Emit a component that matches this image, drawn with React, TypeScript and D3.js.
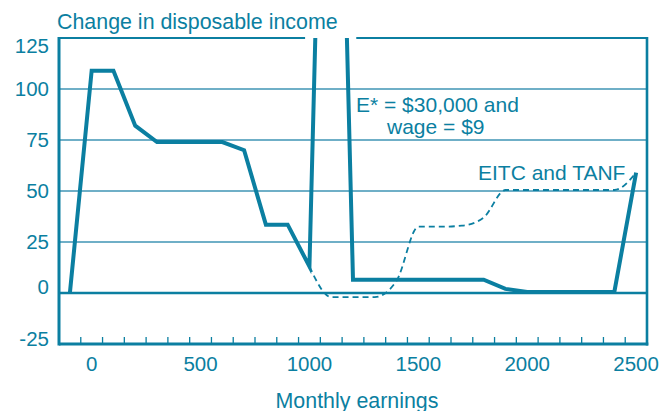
import React from "react";
import * as d3 from "d3";

// ---- data ----
const earnings = [-100, 0, 100, 200, 300, 400, 500, 600, 700, 800, 900, 1000, 1100, 1200, 1300, 1400, 1500, 1600, 1700, 1800, 1900, 2000, 2100, 2200, 2300, 2400, 2500];
const eStarWage9 = [0, 109, 109, 82, 74, 74, 74, 74, 70, 33.5, 33.5, 13, 430, 6.5, 6.5, 6.5, 6.5, 6.5, 6.5, 6.5, 2, 0.5, 0.5, 0.5, 0.5, 0.5, 59];
const eitcEarnings = [1000, 1100, 1200, 1300, 1400, 1500, 1600, 1700, 1800, 1900, 2000, 2100, 2200, 2300, 2400, 2500];
const eitcTanf = [13, -2, -2, -2, 6, 32.5, 32.5, 33, 37, 50.5, 50.5, 50.5, 50.5, 50.5, 50.5, 59];
const yTicks = [-25, 0, 25, 50, 75, 100, 125];
const xLabels = [0, 500, 1000, 1500, 2000, 2500];
const xMinorTicks = d3.range(-50, 2500, 100);

// ---- style ----
const W = 662, H = 411;
const C = "#0b7fa1";
const GRID = "#3f95b4";
const FONT = "'Liberation Sans', Arial, Helvetica, sans-serif";
const labelNudge: Record<number, number> = { 125: 8, 0: -6, [-25]: -5 };

export default function App() {
  const x = d3.scaleLinear().domain([-150, 2550]).range([59, 647]);
  const y = d3.scaleLinear().domain([-25, 125]).range([344, 38]);

  const solid = d3
    .line<number>()
    .x((_, i) => x(earnings[i]))
    .y((d) => y(d))(eStarWage9) as string;

  const dashed = d3
    .line<number>()
    .x((_, i) => x(eitcEarnings[i]))
    .y((d) => y(d))
    .curve(d3.curveMonotoneX)(eitcTanf) as string;

  const [l, r] = x.range();
  const [b, t] = y.range();
  const gapL = x(980), gapR = x(1215);

  return (
    <svg width={W} height={H} style={{ position: "absolute", left: 0, top: 0, background: "#fff" }}>
      <defs>
        <clipPath id="plot">
          <rect x={l} y={t} width={r - l} height={b - t} />
        </clipPath>
      </defs>
      {/* grid */}
      {yTicks.filter((v) => v !== 0 && v !== -25 && v !== 125).map((v) => (
        <line key={v} x1={l} x2={r} y1={y(v)} y2={y(v)} stroke={GRID} strokeWidth={1.5} />
      ))}
      <line x1={l} x2={r} y1={y(0)} y2={y(0)} stroke={C} strokeWidth={2.6} />
      {/* frame */}
      <line x1={l} x2={gapL} y1={t} y2={t} stroke={C} strokeWidth={2} />
      <line x1={gapR} x2={r} y1={t} y2={t} stroke={C} strokeWidth={2} />
      <line x1={l} x2={l} y1={t - 1} y2={b + 1.5} stroke={C} strokeWidth={3} />
      <line x1={r} x2={r} y1={t - 1} y2={b + 1.5} stroke={C} strokeWidth={2.6} />
      <line x1={l} x2={r + 1.3} y1={b} y2={b} stroke={C} strokeWidth={3} />
      {xMinorTicks.map((v) => (
        <line key={v} x1={x(v)} x2={x(v)} y1={b} y2={b - 7} stroke={C} strokeWidth={1.3} />
      ))}
      {/* lines */}
      <g clipPath="url(#plot)">
        <path d={dashed} fill="none" stroke={C} strokeWidth={1.8} strokeDasharray="6,4" />
        <path d={solid} fill="none" stroke={C} strokeWidth={4} strokeLinejoin="miter" />
      </g>
      {/* labels */}
      <g fill={C} fontFamily={FONT} fontSize={20.5}>
        {yTicks.map((v) => (
          <text key={v} x={49} y={y(v) + 7 + (labelNudge[v] || 0)} textAnchor="end">
            {v}
          </text>
        ))}
        {xLabels.map((v) => (
          <text key={v} x={x(v)} y={371} textAnchor="middle">
            {v}
          </text>
        ))}
        <text x={57} y={29} fontSize={21.4}>Change in disposable income</text>
        <text x={357} y={408} fontSize={21.4} textAnchor="middle">Monthly earnings</text>
        <text x={356} y={112} fontSize={21}>E* = $30,000 and</text>
        <text x={387} y={134} fontSize={21}>wage = $9</text>
        <text x={478} y={180} fontSize={21}>EITC and TANF</text>
      </g>
    </svg>
  );
}
